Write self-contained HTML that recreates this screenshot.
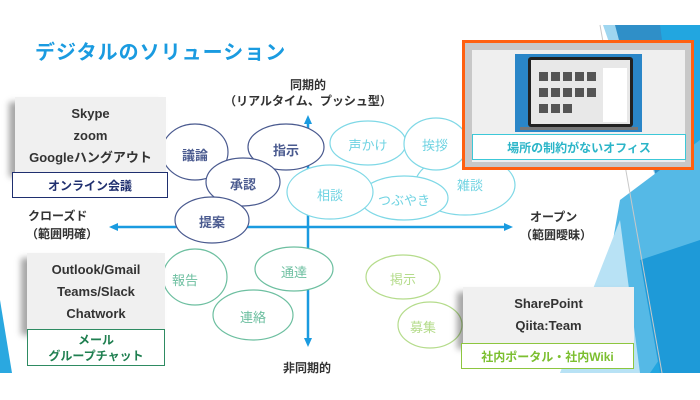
<!DOCTYPE html>
<html><head><meta charset="utf-8"><style>
body{margin:0;width:700px;height:400px;background:#fff;overflow:hidden;position:relative;font-family:"Liberation Sans","Noto Sans CJK JP",sans-serif;}
.a{position:absolute;}
.t{position:absolute;white-space:nowrap;text-align:center;}
.gray{background:#f0f0f0;box-shadow:-6px 5px 6px rgba(0,0,0,0.35);}
.lbl{background:#fff;display:flex;align-items:center;justify-content:center;font-weight:bold;font-size:12px;}
</style></head><body>
<svg class="a" style="left:0;top:0" width="700" height="400">
<polygon points="603,25 700,25 700,373 560,373 660,190" fill="#9fd6f0"/>
<polygon points="615,25 700,25 700,373 600,373 680,260 640,120" fill="#2f8fc8"/>
<polygon points="660,25 700,25 700,373 620,373 690,250" fill="#22a6e0"/>
<polygon points="620,200 700,140 700,300 650,373 590,373" fill="#55b9e6"/>
<polygon points="640,260 700,240 700,373 660,373" fill="#1e9ad8"/>
<polygon points="560,373 620,220 640,373" fill="#b8e2f5"/>
<line x1="600" y1="25" x2="662" y2="373" stroke="#c8c8c8" stroke-width="1"/>
<polygon points="0,300 12,373 0,373" fill="#2aa8e0"/>
<g stroke="#1a9be0" stroke-width="2.5">
<line x1="308" y1="123" x2="308" y2="340"/>
<line x1="116" y1="227" x2="506" y2="227"/>
</g>
<g fill="#fff" stroke-width="1.2">
<g stroke="#4a5a8f">
<ellipse cx="195" cy="152" rx="33" ry="28"/>
<ellipse cx="286" cy="147" rx="38" ry="23"/>
<ellipse cx="243" cy="182" rx="37" ry="24"/>
<ellipse cx="212" cy="220" rx="37" ry="23"/>
</g>
<g stroke="#7fd8e6">
<ellipse cx="465" cy="185" rx="50" ry="30"/>
<ellipse cx="368" cy="143" rx="38" ry="22"/>
<ellipse cx="436" cy="144" rx="32" ry="26"/>
<ellipse cx="404" cy="198" rx="44" ry="22"/>
<ellipse cx="330" cy="192" rx="43" ry="27"/>
</g>
<g stroke="#6dbfa0">
<ellipse cx="195" cy="277" rx="32" ry="28"/>
<ellipse cx="294" cy="269" rx="39" ry="22"/>
<ellipse cx="253" cy="315" rx="40" ry="25"/>
</g>
<g stroke="#b5dc8c">
<ellipse cx="403" cy="277" rx="37" ry="22"/>
<ellipse cx="430" cy="325" rx="32" ry="23"/>
</g>
</g>
<g fill="#1a9be0">
<polygon points="308,115 304,124 312,124"/>
<polygon points="308,347 304,338 312,338"/>
<polygon points="109,227 118,223 118,231"/>
<polygon points="513,227 504,223 504,231"/>
</g>
</svg>
<div class="t" style="left:35px;top:36px;font-size:20px;font-weight:bold;color:#1a9be0;letter-spacing:1px">デジタルのソリューション</div>
<div class="t" style="left:258px;top:76px;width:100px;font-size:12px;color:#333;font-weight:bold">同期的</div>
<div class="t" style="left:218px;top:92px;width:180px;font-size:12px;color:#333;font-weight:bold">（リアルタイム、プッシュ型）</div>
<div class="t" style="left:28px;top:207px;font-size:12px;color:#333;font-weight:bold">クローズド</div>
<div class="t" style="left:26px;top:225px;font-size:12px;color:#333;font-weight:bold">（範囲明確）</div>
<div class="t" style="left:530px;top:208px;font-size:12px;color:#333;font-weight:bold">オープン</div>
<div class="t" style="left:520px;top:226px;font-size:12px;color:#333;font-weight:bold">（範囲曖昧）</div>
<div class="t" style="left:283px;top:359px;font-size:12px;color:#333;font-weight:bold">非同期的</div>
<div class="t" style="left:170px;top:145px;width:50px;font-size:13px;color:#4a5a8f;font-weight:bold">議論</div>
<div class="t" style="left:261px;top:140px;width:50px;font-size:13px;color:#4a5a8f;font-weight:bold">指示</div>
<div class="t" style="left:218px;top:174px;width:50px;font-size:13px;color:#4a5a8f;font-weight:bold">承認</div>
<div class="t" style="left:187px;top:212px;width:50px;font-size:13px;color:#4a5a8f;font-weight:bold">提案</div>
<div class="t" style="left:338px;top:135px;width:60px;font-size:13px;color:#6fd3e2">声かけ</div>
<div class="t" style="left:410px;top:135px;width:50px;font-size:13px;color:#6fd3e2">挨拶</div>
<div class="t" style="left:445px;top:175px;width:50px;font-size:13px;color:#6fd3e2">雑談</div>
<div class="t" style="left:305px;top:185px;width:50px;font-size:13px;color:#6fd3e2">相談</div>
<div class="t" style="left:366px;top:190px;width:76px;font-size:13px;color:#6fd3e2">つぶやき</div>
<div class="t" style="left:160px;top:270px;width:50px;font-size:13px;color:#6dbfa0">報告</div>
<div class="t" style="left:269px;top:262px;width:50px;font-size:13px;color:#6dbfa0">通達</div>
<div class="t" style="left:228px;top:307px;width:50px;font-size:13px;color:#6dbfa0">連絡</div>
<div class="t" style="left:378px;top:269px;width:50px;font-size:13px;color:#b5dc8c">掲示</div>
<div class="t" style="left:398px;top:317px;width:50px;font-size:13px;color:#b5dc8c">募集</div>
<div class="a gray" style="left:15px;top:97px;width:151px;height:75px"></div>
<div class="t" style="left:15px;top:103px;width:151px;font-size:13px;color:#333;line-height:22px;font-weight:bold">Skype<br>zoom<br>Googleハングアウト</div>
<div class="a lbl" style="left:12px;top:172px;width:154px;height:24px;border:1.5px solid #1f2f6f;color:#1f2f6f">オンライン会議</div>
<div class="a gray" style="left:27px;top:253px;width:138px;height:77px"></div>
<div class="t" style="left:27px;top:259px;width:138px;font-size:13px;color:#333;line-height:22px;font-weight:bold">Outlook/Gmail<br>Teams/Slack<br>Chatwork</div>
<div class="a lbl" style="left:27px;top:329px;width:136px;height:35px;border:1.5px solid #2e8b62;color:#1f7f50;line-height:16px;text-align:center">メール<br>グループチャット</div>
<div class="a gray" style="left:463px;top:287px;width:171px;height:57px"></div>
<div class="t" style="left:463px;top:293px;width:171px;font-size:13px;color:#333;line-height:22px;font-weight:bold">SharePoint<br>Qiita:Team</div>
<div class="a lbl" style="left:461px;top:343px;width:171px;height:24px;border:1.5px solid #8dc63f;color:#7cbf30">社内ポータル・社内Wiki</div>
<div class="a" style="left:462px;top:40px;width:226px;height:124px;border:3px solid #ff6010;background:#c8c8c8"></div>
<div class="a" style="left:472px;top:50px;width:213px;height:112px;background:#efefef"></div>
<div class="a" style="left:515px;top:54px;width:127px;height:78px;background:#2a86c8"></div>
<div class="a" style="left:528px;top:57px;width:105px;height:70px;background:#222;border-radius:3px"></div>
<div class="a" style="left:531px;top:60px;width:99px;height:64px;background:#e8e8e8"></div>
<svg class="a" style="left:531px;top:60px" width="99" height="64">
<g fill="#555"><rect x="8" y="12" width="9" height="9"/><rect x="20" y="12" width="9" height="9"/><rect x="32" y="12" width="9" height="9"/><rect x="44" y="12" width="9" height="9"/><rect x="56" y="12" width="9" height="9"/>
<rect x="8" y="28" width="9" height="9"/><rect x="20" y="28" width="9" height="9"/><rect x="32" y="28" width="9" height="9"/><rect x="44" y="28" width="9" height="9"/><rect x="56" y="28" width="9" height="9"/>
<rect x="8" y="44" width="9" height="9"/><rect x="20" y="44" width="9" height="9"/><rect x="32" y="44" width="9" height="9"/></g>
<rect x="72" y="8" width="24" height="54" fill="#fff"/>
</svg>
<div class="a" style="left:520px;top:127px;width:118px;height:3px;background:#777"></div>
<div class="a lbl" style="left:472px;top:134px;width:212px;height:24px;border:1.5px solid #3cc8d8;color:#2bb5c8">場所の制約がないオフィス</div>
</body></html>
